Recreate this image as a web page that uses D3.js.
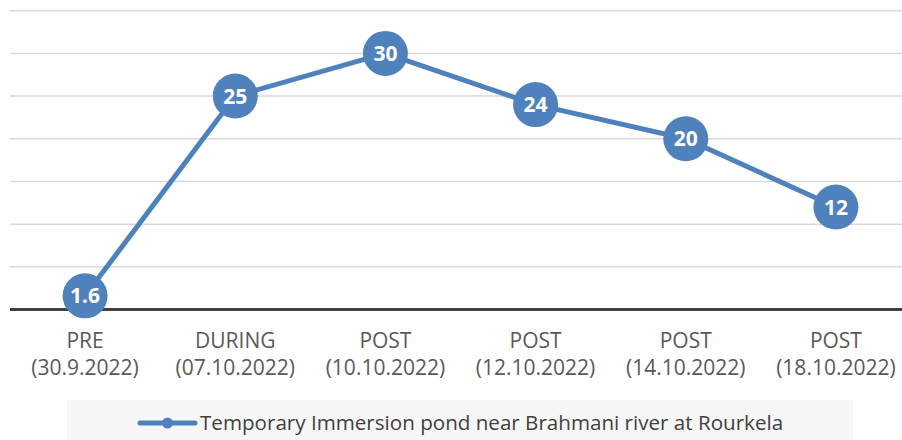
<!DOCTYPE html>
<html>
<head>
  <meta charset="utf-8">
  <title>Immersion pond</title>
  <style type="text/css">
    body { margin: 0; background: #fff; }
    svg { display: block; font-family: "Open Sans", sans-serif; }
  </style>
</head>
<body>
  <script type="text/javascript" src="https://cdn.jsdelivr.net/npm/d3@7/dist/d3.min.js"></script>
  <script type="text/javascript">
    // Data
    var phases = ["PRE", "DURING", "POST", "POST", "POST", "POST"];
    var dates = ["(30.9.2022)", "(07.10.2022)", "(10.10.2022)", "(12.10.2022)", "(14.10.2022)", "(18.10.2022)"];
    var values = [1.6, 25, 30, 24, 20, 12];
    var yTicks = [0, 5, 10, 15, 20, 25, 30, 35];
    var seriesName = "Temporary Immersion pond near Brahmani river at Rourkela";

    var w = 902, h = 440;
    var blue = "#4f81bd";

    var svg = d3.select("body").append("svg")
      .attr("width", w)
      .attr("height", h);

    var x = d3.scaleBand()
      .domain(d3.range(values.length))
      .range([10, 911]);

    var y = d3.scaleLinear()
      .domain([0, 35])
      .range([309.5, 10.7]);

    // gridlines
    svg.append("g")
      .selectAll("line")
      .data(yTicks.slice(1))
      .enter().append("line")
      .attr("x1", 10).attr("x2", w)
      .attr("y1", d => y(d)).attr("y2", d => y(d))
      .attr("stroke", "#d9d9d9")
      .attr("stroke-width", 1.5);

    // category axis
    var xAxis = svg.append("g");
    xAxis.append("line")
      .attr("x1", 10).attr("x2", w)
      .attr("y1", y(0)).attr("y2", y(0))
      .attr("stroke", "#404040")
      .attr("stroke-width", 3);

    var lbl = xAxis.selectAll("text.cat")
      .data(values)
      .enter().append("text")
      .attr("class", "cat")
      .attr("text-anchor", "middle")
      .attr("fill", "#595959")
      .attr("font-size", 21);
    lbl.append("tspan")
      .attr("x", (d, i) => x(i) + x.bandwidth() / 2)
      .attr("y", 348)
      .text((d, i) => phases[i]);
    lbl.append("tspan")
      .attr("x", (d, i) => x(i) + x.bandwidth() / 2)
      .attr("y", 375)
      .text((d, i) => dates[i]);

    // line
    var line = d3.line()
      .x((d, i) => x(i) + x.bandwidth() / 2)
      .y(d => y(d));

    svg.append("path")
      .datum(values)
      .attr("d", line)
      .attr("fill", "none")
      .attr("stroke", blue)
      .attr("stroke-width", 5)
      .attr("stroke-linejoin", "round");

    var pts = svg.append("g")
      .selectAll("g")
      .data(values)
      .enter().append("g")
      .attr("transform", (d, i) => "translate(" + (x(i) + x.bandwidth() / 2) + "," + y(d) + ")");

    pts.append("circle")
      .attr("r", 22.5)
      .attr("fill", blue);

    pts.append("text")
      .attr("text-anchor", "middle")
      .attr("dy", "0.36em")
      .attr("fill", "#fff")
      .attr("font-weight", "bold")
      .attr("font-size", 21)
      .text(d => d);

    // legend
    var lg = svg.append("g");
    lg.append("rect")
      .attr("x", 67).attr("y", 400)
      .attr("width", 786).attr("height", 40)
      .attr("fill", "#f7f7f7");
    lg.append("line")
      .attr("x1", 140).attr("x2", 195)
      .attr("y1", 423).attr("y2", 423)
      .attr("stroke", blue)
      .attr("stroke-width", 5)
      .attr("stroke-linecap", "round");
    lg.append("circle")
      .attr("cx", 167.5).attr("cy", 423)
      .attr("r", 5.5)
      .attr("fill", blue);
    lg.append("text")
      .attr("x", 200).attr("y", 430)
      .attr("fill", "#404040")
      .attr("font-size", 20.6)
      .text(seriesName);
  </script>
</body>
</html>
